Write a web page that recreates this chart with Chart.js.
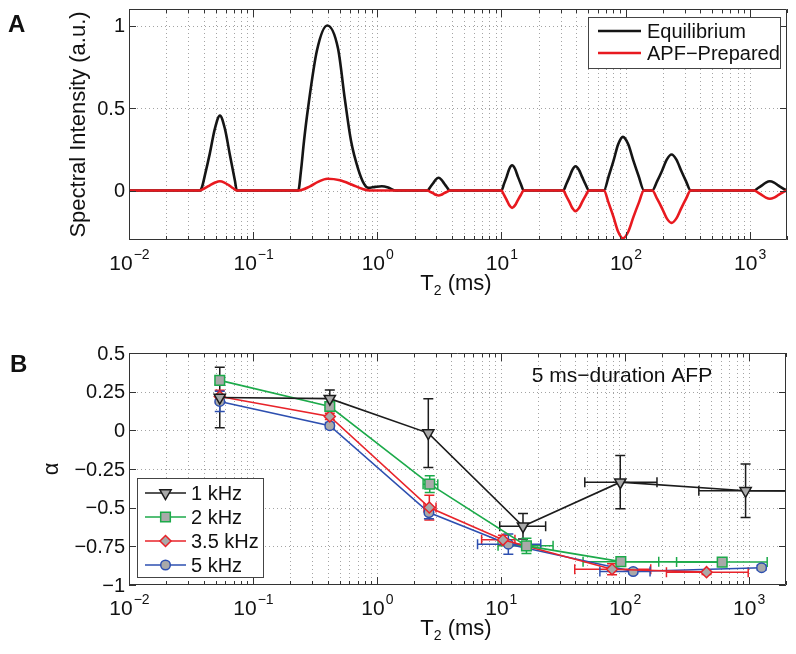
<!DOCTYPE html>
<html lang="en">
<head>
<meta charset="UTF-8">
<title>T2 spectra and alpha</title>
<script src="https://cdn.jsdelivr.net/npm/chart.js@4.4.0/dist/chart.umd.min.js"></script>
<style>
* { margin: 0; padding: 0; box-sizing: border-box; }
body {
  background: #fff;
  width: 796px;
  height: 654px;
  position: relative;
  overflow: hidden;
  font-family: "Liberation Sans", Arial, sans-serif;
}
.panel { position: absolute; left: 0; width: 796px; }
#top { top: 0; height: 300px; }
#bottom { top: 300px; height: 354px; }
</style>
</head>
<body>
<div class="panel" id="top"><canvas id="spectra"></canvas></div>
<div class="panel" id="bottom"><canvas id="alpha"></canvas></div>
<script>
// ---- panel A: T2 spectra ----
const eqT2 = [0.01, 0.0372, 0.0387, 0.0408, 0.0448, 0.0492, 0.054, 0.0592, 0.065, 0.0713, 0.074,
  0.231, 0.243, 0.257, 0.277, 0.327, 0.396, 0.483, 0.549, 0.615, 0.702, 0.783, 0.849, 0.962, 1.089, 1.224, 1.393,
  2.54, 2.67, 2.81, 2.96, 3.12, 3.28, 3.46, 3.64, 3.83,
  10.0, 10.5, 11.04, 11.6, 12.19, 12.87, 13.58, 14.34, 15.14,
  31.5, 33.3, 35.3, 37.4, 39.5, 42.1, 44.8, 47.6, 50.7,
  67.0, 73.1, 80.0, 87.3, 95.3, 105.2, 115.9, 127.9, 140.9,
  164, 180, 197, 215, 235, 257, 281, 307, 335,
  1087, 1169, 1258, 1352, 1455, 1574, 1698, 1837, 1986];
const eqVals = [0, 0, 0.02, 0.09, 0.225, 0.375, 0.454, 0.375, 0.215, 0.06, 0,
  0, 0.12, 0.3, 0.5, 0.85, 1.0, 0.86, 0.55, 0.3, 0.13, 0.04, 0.016, 0.022, 0.026, 0.018, 0,
  0, 0.02, 0.042, 0.066, 0.077, 0.066, 0.042, 0.02, 0,
  0, 0.04, 0.084, 0.132, 0.153, 0.132, 0.084, 0.04, 0,
  0, 0.038, 0.081, 0.126, 0.147, 0.126, 0.081, 0.038, 0,
  0, 0.085, 0.179, 0.28, 0.325, 0.28, 0.179, 0.085, 0,
  0, 0.057, 0.12, 0.187, 0.218, 0.187, 0.12, 0.057, 0,
  0, 0.015, 0.031, 0.048, 0.056, 0.048, 0.031, 0.015, 0];

const apfT2 = [0.01, 0.0372, 0.041, 0.0448, 0.0494, 0.054, 0.0587, 0.064, 0.0687, 0.0736,
  0.231, 0.287, 0.333, 0.396, 0.501, 0.627, 0.755, 0.87,
  2.54, 2.67, 2.81, 2.96, 3.12, 3.28, 3.46, 3.64, 3.83,
  10.0, 10.5, 11.04, 11.6, 12.19, 12.87, 13.58, 14.34, 15.14,
  31.5, 33.3, 35.3, 37.4, 39.5, 42.1, 44.8, 47.6, 50.7,
  67.0, 73.1, 80.0, 87.3, 95.3, 105.2, 115.9, 127.9, 140.9,
  164, 180, 197, 215, 235, 257, 281, 307, 335,
  1087, 1169, 1258, 1352, 1455, 1574, 1698, 1837, 1986];
const apfVals = [0, 0, 0.015, 0.031, 0.048, 0.056, 0.048, 0.031, 0.015, 0,
  0, 0.025, 0.052, 0.071, 0.062, 0.035, 0.01, 0,
  0, -0.008, -0.016, -0.026, -0.03, -0.026, -0.016, -0.008, 0,
  0, -0.027, -0.058, -0.09, -0.105, -0.09, -0.058, -0.027, 0,
  0, -0.033, -0.069, -0.108, -0.125, -0.108, -0.069, -0.033, 0,
  0, -0.075, -0.16, -0.25, -0.29, -0.25, -0.16, -0.075, 0,
  0, -0.051, -0.108, -0.169, -0.196, -0.169, -0.108, -0.051, 0,
  0, -0.013, -0.028, -0.043, -0.05, -0.043, -0.028, -0.013, 0];

// ---- panel B: alpha vs T2 for four AFP bandwidths ----
const seriesNames = ['1 kHz', '2 kHz', '3.5 kHz', '5 kHz'];

const t2_1k = [0.054, 0.417, 2.6, 15.1, 92, 944, 3000];
const alpha_1k = [0.212, 0.205, -0.018, -0.62, -0.335, -0.391, -0.393];
const yErr_1k = [0.196, 0.056, 0.222, 0.082, 0.172, 0.173, 0];
const xLo_1k = [null, null, null, 9.8, 47.6, 396, null];
const xHi_1k = [null, null, null, 23, 182, 2250, null];

const t2_2k = [0.054, 0.417, 2.67, 16.1, 93, 611];
const alpha_2k = [0.323, 0.154, -0.348, -0.747, -0.849, -0.852];
const yErr_2k = [0.027, 0.02, 0.054, 0.05, 0.015, 0.015];
const xLo_2k = [null, null, 2.36, 9.5, 46.1, 262];
const xHi_2k = [null, null, 3.1, 26.4, 188, 1410];

const t2_35k = [0.054, 0.417, 2.65, 10.4, 79, 457];
const alpha_35k = [0.219, 0.09, -0.499, -0.708, -0.898, -0.917];
const yErr_35k = [0.04, 0.02, 0.08, 0.03, 0.035, 0.015];
const xLo_35k = [null, null, 2.4, 7.0, 39.5, 217];
const xHi_35k = [null, null, 3.0, 13.0, 162, 991];

const t2_5k = [0.054, 0.417, 2.63, 11.5, 117, 1271];
const alpha_5k = [0.187, 0.03, -0.532, -0.736, -0.913, -0.888];
const yErr_5k = [0.065, 0.02, 0.04, 0.065, 0.015, 0.015];
const xLo_5k = [null, null, null, 6.49, 63, null];
const xHi_5k = [null, null, null, 21, 160, null];

// ---- axes ----
const xMajors = [0.01, 0.1, 1, 10, 100, 1000];
const xExponents = ['\u22122', '\u22121', '0', '1', '2', '3'];
const topYTicks = [0, 0.5, 1];
const topYLabels = ['0', '0.5', '1'];
const botYTicks = [-1, -0.75, -0.5, -0.25, 0, 0.25, 0.5];
const botYLabels = ['\u22121', '\u22120.75', '\u22120.5', '\u22120.25', '0', '0.25', '0.5'];

const FONT = '"Liberation Sans", Arial, sans-serif';
const GRAY_FILL = '#a9a9a9';

const xMinor = [];
xMajors.forEach(d => { for (let m = 2; m <= 9; m++) if (d * m <= 2000) xMinor.push(d * m); });

function pts(xs, ys) { return xs.map((x, i) => ({ x: x, y: ys[i] })); }

function marker(ctx, style, x, y, r, rot) {
  ctx.beginPath();
  if (style === 'circle') {
    ctx.arc(x, y, r, 0, Math.PI * 2);
  } else if (style === 'rect') {
    const s = r * Math.SQRT1_2;
    ctx.rect(x - s, y - s, 2 * s, 2 * s);
  } else if (style === 'rectRot') {
    ctx.moveTo(x, y - r); ctx.lineTo(x + r, y); ctx.lineTo(x, y + r); ctx.lineTo(x - r, y);
    ctx.closePath();
  } else {
    let a = (rot || 0) * Math.PI / 180;
    ctx.moveTo(x + Math.sin(a) * r, y - Math.cos(a) * r);
    a += 2 * Math.PI / 3;
    ctx.lineTo(x + Math.sin(a) * r, y - Math.cos(a) * r);
    a += 2 * Math.PI / 3;
    ctx.lineTo(x + Math.sin(a) * r, y - Math.cos(a) * r);
    ctx.closePath();
  }
  ctx.fill();
  ctx.stroke();
}

// matlab-like frame: dotted grid, boxed axes with inward ticks, labels, legend
const framePlugin = {
  id: 'frame',
  beforeDatasetsDraw(chart, args, o) {
    const { ctx, chartArea: a, scales: { x, y } } = chart;
    ctx.save();
    ctx.strokeStyle = '#a4a4a4';
    ctx.lineWidth = 1;
    ctx.setLineDash([1, 3]);
    ctx.beginPath();
    xMajors.concat(xMinor).forEach(v => {
      const px = Math.round(x.getPixelForValue(v)) + 0.5;
      if (px > a.left + 1 && px < a.right - 1) { ctx.moveTo(px, a.top); ctx.lineTo(px, a.bottom); }
    });
    o.yTicks.forEach(v => {
      const py = Math.round(y.getPixelForValue(v)) + 0.5;
      if (py > a.top + 1 && py < a.bottom - 1) { ctx.moveTo(a.left, py); ctx.lineTo(a.right, py); }
    });
    ctx.stroke();
    ctx.setLineDash([]);

    // error bars
    ctx.beginPath();
    ctx.rect(a.left, a.top, a.right - a.left, a.bottom - a.top);
    ctx.clip();
    chart.data.datasets.forEach(ds => {
      if (!ds.yErr) return;
      ctx.strokeStyle = ds.borderColor;
      ctx.lineWidth = 1.5;
      ctx.beginPath();
      ds.data.forEach((p, i) => {
        const px = x.getPixelForValue(p.x);
        const py = y.getPixelForValue(p.y);
        const e = ds.yErr[i];
        if (e) {
          const t = y.getPixelForValue(p.y + e), b = y.getPixelForValue(p.y - e);
          ctx.moveTo(px, t); ctx.lineTo(px, b);
          ctx.moveTo(px - 5, t); ctx.lineTo(px + 5, t);
          ctx.moveTo(px - 5, b); ctx.lineTo(px + 5, b);
        }
        if (ds.xLo[i]) {
          const l = x.getPixelForValue(ds.xLo[i]), r = x.getPixelForValue(ds.xHi[i]);
          ctx.moveTo(l, py); ctx.lineTo(r, py);
          ctx.moveTo(l, py - 5); ctx.lineTo(l, py + 5);
          ctx.moveTo(r, py - 5); ctx.lineTo(r, py + 5);
        }
      });
      ctx.stroke();
    });
    ctx.restore();
  },
  afterDraw(chart, args, o) {
    const { ctx, chartArea: a, scales: { x, y } } = chart;
    ctx.save();
    ctx.strokeStyle = '#333';
    ctx.lineWidth = 1;
    ctx.beginPath();
    ctx.rect(a.left + 0.5, a.top + 0.5, a.right - a.left - 1, a.bottom - a.top - 1);
    const tick = (v, len) => {
      const px = Math.round(x.getPixelForValue(v)) + 0.5;
      ctx.moveTo(px, a.bottom); ctx.lineTo(px, a.bottom - len);
      ctx.moveTo(px, a.top); ctx.lineTo(px, a.top + len);
    };
    xMajors.forEach(v => tick(v, 8));
    xMinor.forEach(v => tick(v, 4));
    o.yTicks.forEach(v => {
      const py = Math.round(y.getPixelForValue(v)) + 0.5;
      ctx.moveTo(a.left, py); ctx.lineTo(a.left + 7, py);
      ctx.moveTo(a.right, py); ctx.lineTo(a.right - 7, py);
    });
    ctx.stroke();

    ctx.fillStyle = '#111';
    // x tick labels 10^n
    ctx.textBaseline = 'alphabetic';
    xMajors.forEach((v, i) => {
      const px = x.getPixelForValue(v);
      ctx.font = '21px ' + FONT;
      const w1 = ctx.measureText('10').width;
      ctx.font = '14px ' + FONT;
      const w2 = ctx.measureText(xExponents[i]).width;
      const sx = px - (w1 + w2) / 2;
      ctx.font = '21px ' + FONT;
      ctx.textAlign = 'left';
      ctx.fillText('10', sx, a.bottom + 30);
      ctx.font = '14px ' + FONT;
      ctx.fillText(xExponents[i], sx + w1 + 1, a.bottom + 19);
    });
    // y tick labels
    ctx.font = '20px ' + FONT;
    ctx.textAlign = 'right';
    ctx.textBaseline = 'middle';
    o.yTicks.forEach((v, i) => ctx.fillText(o.yLabels[i], a.left - 4, y.getPixelForValue(v) + 1));

    // x title T2 (ms)
    ctx.textBaseline = 'alphabetic';
    ctx.textAlign = 'left';
    ctx.font = '22px ' + FONT;
    const wT = ctx.measureText('T').width, wR = ctx.measureText(' (ms)').width;
    ctx.font = '14px ' + FONT;
    const wS = ctx.measureText('2').width;
    let sx = 456 - (wT + wS + wR) / 2;
    const base = a.bottom + 50;
    ctx.font = '22px ' + FONT;
    ctx.fillText('T', sx, base);
    ctx.font = '14px ' + FONT;
    ctx.fillText('2', sx + wT, base + 5);
    ctx.font = '22px ' + FONT;
    ctx.fillText(' (ms)', sx + wT + wS, base);

    // y title
    ctx.save();
    ctx.translate(o.yTitleX, (a.top + a.bottom) / 2);
    ctx.rotate(-Math.PI / 2);
    ctx.textAlign = 'center';
    ctx.textBaseline = 'middle';
    ctx.font = '22px ' + FONT;
    ctx.fillText(o.yTitle, 0, 0);
    ctx.restore();

    // panel letter
    ctx.font = 'bold 24px ' + FONT;
    ctx.textAlign = 'left';
    ctx.fillText(o.letter, o.letterPos[0], o.letterPos[1]);

    if (o.note) {
      ctx.font = '21px ' + FONT;
      ctx.textAlign = 'center';
      ctx.textBaseline = 'middle';
      ctx.fillText(o.note, o.notePos[0], o.notePos[1]);
    }

    // legend
    const L = o.legend;
    ctx.fillStyle = '#fff';
    ctx.fillRect(L.box[0], L.box[1], L.box[2], L.box[3]);
    ctx.strokeStyle = '#444';
    ctx.lineWidth = 1;
    ctx.strokeRect(L.box[0] + 0.5, L.box[1] + 0.5, L.box[2], L.box[3]);
    const dsets = L.order.map(i => chart.data.datasets[i]);
    dsets.forEach((ds, k) => {
      const ry = L.rowY[k];
      ctx.strokeStyle = ds.borderColor;
      ctx.lineWidth = ds.borderWidth;
      ctx.beginPath();
      ctx.moveTo(L.lineX[0], ry); ctx.lineTo(L.lineX[1], ry);
      ctx.stroke();
      if (ds.pointRadius) {
        ctx.fillStyle = ds.pointBackgroundColor;
        ctx.lineWidth = ds.pointBorderWidth;
        marker(ctx, ds.pointStyle, (L.lineX[0] + L.lineX[1]) / 2, ry, ds.pointRadius, ds.pointRotation);
      }
      ctx.fillStyle = '#111';
      ctx.font = '20px ' + FONT;
      ctx.textAlign = 'left';
      ctx.textBaseline = 'middle';
      ctx.fillText(ds.label, L.textX, ry + 1);
    });
    ctx.restore();
  }
};

function logX() {
  return { type: 'logarithmic', min: 0.01, max: 2000, display: false };
}

new Chart(document.getElementById('spectra'), {
  type: 'line',
  data: {
    datasets: [
      { label: 'Equilibrium', data: pts(eqT2, eqVals), borderColor: '#151515', borderWidth: 2.6,
        pointRadius: 0, cubicInterpolationMode: 'monotone', order: 1 },
      { label: 'APF\u2212Prepared', data: pts(apfT2, apfVals), borderColor: '#e8191f', borderWidth: 2.6,
        pointRadius: 0, cubicInterpolationMode: 'monotone', order: 0 }
    ]
  },
  options: {
    responsive: true,
    maintainAspectRatio: false,
    devicePixelRatio: 1,
    animation: false,
    parsing: false,
    layout: { padding: { left: 129, right: 9, top: 9, bottom: 60 } },
    scales: { x: logX(), y: { type: 'linear', min: -0.3, max: 1.1, display: false } },
    plugins: {
      legend: { display: false },
      tooltip: { enabled: false },
      frame: {
        yTicks: topYTicks, yLabels: topYLabels,
        yTitle: 'Spectral Intensity (a.u.)', yTitleX: 79,
        letter: 'A', letterPos: [8, 32],
        legend: { box: [588, 17, 192, 51], order: [0, 1], rowY: [31, 53], lineX: [598, 641], textX: 647 }
      }
    }
  },
  plugins: [framePlugin]
});

function series(label, color, xs, ys, yErr, xLo, xHi, style, r, rot) {
  return {
    label: label, data: pts(xs, ys), yErr: yErr, xLo: xLo, xHi: xHi,
    borderColor: color, borderWidth: 1.6, tension: 0,
    pointStyle: style, pointRadius: r, pointRotation: rot || 0,
    pointBackgroundColor: GRAY_FILL, pointBorderColor: color, pointBorderWidth: 1.5
  };
}

new Chart(document.getElementById('alpha'), {
  type: 'line',
  data: {
    datasets: [
      series(seriesNames[0], '#1c1c1c', t2_1k, alpha_1k, yErr_1k, xLo_1k, xHi_1k, 'triangle', 6.5, 180),
      series(seriesNames[1], '#1caa4a', t2_2k, alpha_2k, yErr_2k, xLo_2k, xHi_2k, 'rect', 6.8),
      series(seriesNames[2], '#e8232a', t2_35k, alpha_35k, yErr_35k, xLo_35k, xHi_35k, 'rectRot', 5.5),
      series(seriesNames[3], '#2d4fb0', t2_5k, alpha_5k, yErr_5k, xLo_5k, xHi_5k, 'circle', 4.8)
    ]
  },
  options: {
    responsive: true,
    maintainAspectRatio: false,
    devicePixelRatio: 1,
    animation: false,
    parsing: false,
    layout: { padding: { left: 129, right: 10, top: 53, bottom: 69 } },
    scales: { x: logX(), y: { type: 'linear', min: -1, max: 0.5, display: false } },
    plugins: {
      legend: { display: false },
      tooltip: { enabled: false },
      frame: {
        yTicks: botYTicks, yLabels: botYLabels,
        yTitle: '\u03b1', yTitleX: 52,
        letter: 'B', letterPos: [10, 72],
        note: '5 ms\u2212duration AFP', notePos: [622, 76],
        legend: { box: [137, 178, 126, 99], order: [0, 1, 2, 3], rowY: [193, 217, 241, 265], lineX: [145, 186], textX: 191 }
      }
    }
  },
  plugins: [framePlugin]
});
</script>
</body>
</html>
